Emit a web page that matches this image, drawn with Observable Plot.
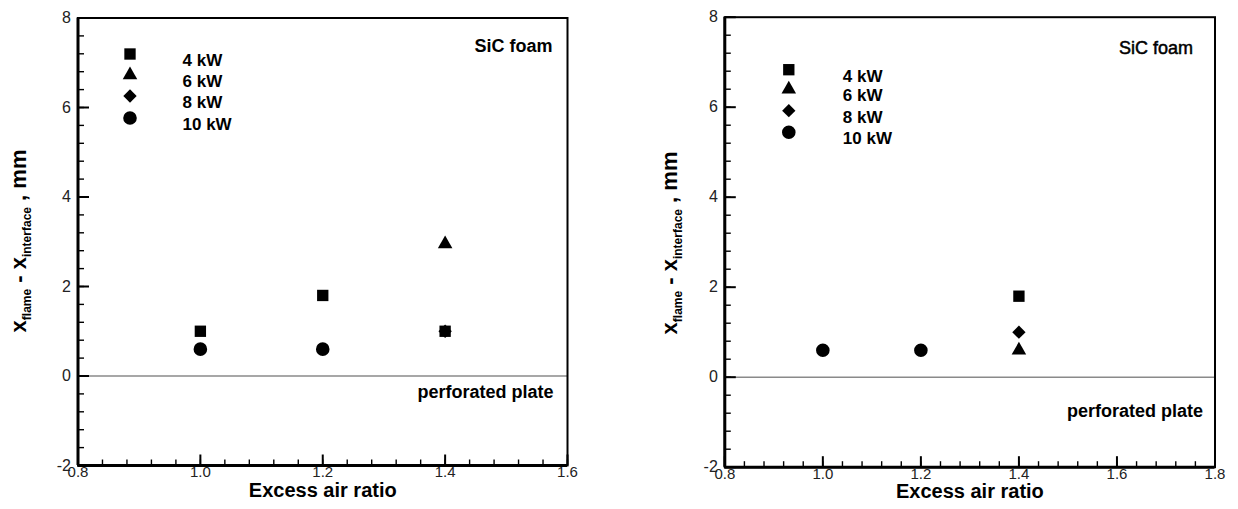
<!DOCTYPE html>
<html><head><meta charset="utf-8">
<script src="https://cdn.jsdelivr.net/npm/d3@7"></script>
<script src="https://cdn.jsdelivr.net/npm/@observablehq/plot@0.6"></script>
<style>
body{margin:0;background:#fff;}
#wrap{display:flex;width:1238px;height:509px;}
#wrap svg{display:block;}
</style></head><body><div id="wrap"></div>
<script>
// ---- data ----
const series = ["4 kW", "6 kW", "8 kW", "10 kW"];
const symbols = ["square", "triangle", "diamond2", "circle"];

// left panel
const left4kW_x = [1.0, 1.2, 1.4];   const left4kW_y = [1.0, 1.8, 1.0];
const left6kW_x = [1.4];             const left6kW_y = [2.95];
const left8kW_x = [1.4];             const left8kW_y = [1.0];
const left10kW_x = [1.0, 1.2];       const left10kW_y = [0.6, 0.6];
// right panel
const right4kW_x = [1.4];            const right4kW_y = [1.8];
const right6kW_x = [1.4];            const right6kW_y = [0.6];
const right8kW_x = [1.4];            const right8kW_y = [1.0];
const right10kW_x = [1.0, 1.2];      const right10kW_y = [0.6, 0.6];

const yTicks = [-2, 0, 2, 4, 6, 8];
const leftXTicks = [0.8, 1.0, 1.2, 1.4, 1.6];
const rightXTicks = [0.8, 1.0, 1.2, 1.4, 1.6, 1.8];
const xLabel = "Excess air ratio";
const topNote = "SiC foam";
const bottomNote = "perforated plate";

// ---- styling ----
const FONT = "'Liberation Sans', Arial, Helvetica, sans-serif";
const symR = [6.4, 5.4, 6.0, 6.8];
const W = 619, H = 509;

// tick glyphs drawn as small filled bars (pointing into the frame)
const yMajorSym = {draw(c) { c.rect(0, -1, 11, 2); }};
const yMinorSym = {draw(c) { c.rect(0, -0.7, 6, 1.4); }};
const xMajorSym = {draw(c) { c.rect(-1, -11, 2, 11); }};
const xMinorSym = {draw(c) { c.rect(-0.7, -6, 1.4, 6); }};

function rows(xs, ys, s) { return xs.map((x, i) => ({x, y: ys[i], s})); }

function panel(cfg) {
  const data = cfg.d.map((p, i) => rows(p[0], p[1], i));
  const xd = [cfg.xTicks[0], cfg.xTicks[cfg.xTicks.length - 1]];
  const xMinor = d3.range(0, Math.round((xd[1] - xd[0]) / 0.04) + 1).map(i => xd[0] + i * 0.04);
  const yMinor = d3.range(0, 26).map(i => -2 + i * 0.4);
  const marks = [
    Plot.ruleY([0], {stroke: "#8a8a8a", strokeWidth: 1.5}),
    Plot.dot(yMinor, {y: d => d, frameAnchor: "left", symbol: yMinorSym, fill: "#000", stroke: "none"}),
    Plot.dot(yTicks, {y: d => d, frameAnchor: "left", symbol: yMajorSym, fill: "#000", stroke: "none"}),
    Plot.dot(xMinor, {x: d => d, frameAnchor: "bottom", symbol: xMinorSym, fill: "#000", stroke: "none"}),
    Plot.dot(cfg.xTicks, {x: d => d, frameAnchor: "bottom", symbol: xMajorSym, fill: "#000", stroke: "none"}),
    Plot.axisY(yTicks, {tickSize: 0, tickPadding: 7, tickFormat: d => String(d), fontSize: 16, fill: "#222", label: null}),
    Plot.axisX(cfg.xTicks, {tickSize: 0, tickPadding: 1, tickFormat: d3.format(".1f"), fontSize: 15, fill: "#222", label: null}),
    Plot.frame({stroke: "#000", strokeWidth: 2}),
    Plot.ruleX([xd[0]], {stroke: "#000", strokeWidth: 3}),
    Plot.ruleY([-2], {stroke: "#000", strokeWidth: 3}),
    Plot.text([xLabel], {text: d => d, frameAnchor: "bottom", dy: 31, fontSize: 20, fontWeight: "bold", fill: "#000"}),
    Plot.text([topNote], {text: d => d, frameAnchor: "top-right", textAnchor: "end", dx: cfg.topDx, dy: cfg.topDy, fontSize: 18, fontWeight: cfg.topWeight, fill: "#000", stroke: "#000", strokeWidth: cfg.topStroke}),
    Plot.text([bottomNote], {text: d => d, frameAnchor: "bottom-right", textAnchor: "end", dx: cfg.botDx, dy: cfg.botDy, fontSize: 18, fontWeight: "bold", fill: "#000"})
  ];
  data.forEach((rs, i) => {
    marks.push(Plot.dot(rs, {x: "x", y: "y", symbol: () => symbols[i], r: symR[i], fill: "#000", stroke: "none"}));
  });
  series.forEach((s, i) => {
    marks.push(Plot.dot([s], {frameAnchor: "top-left", dx: cfg.legSymDx, dy: cfg.legDy[i], symbol: () => symbols[i], r: symR[i], fill: "#000", stroke: "none"}));
    marks.push(Plot.text([s], {text: d => d, frameAnchor: "top-left", textAnchor: "start", dx: cfg.legTxtDx, dy: cfg.legDy[i], fontSize: 17, fontWeight: "bold", fill: "#000"}));
  });
  const svg = Plot.plot({
    width: W, height: H,
    marginLeft: cfg.ml, marginRight: cfg.mr, marginTop: cfg.mt, marginBottom: cfg.mb,
    style: {fontFamily: FONT, background: "#fff", overflow: "visible"},
    x: {type: "linear", domain: xd},
    y: {type: "linear", domain: [-2, 8]},
    symbol: {type: "identity"},
    marks
  });

  const t = d3.select(svg).append("text")
    .attr("transform", `translate(${cfg.ylx},${cfg.yly}) rotate(-90)`)
    .attr("text-anchor", "middle").attr("font-family", FONT)
    .attr("font-weight", "bold").attr("fill", "#000");
  t.append("tspan").attr("font-size", 22).text("x");
  t.append("tspan").attr("font-size", 12).attr("dy", 5).text("flame");
  t.append("tspan").attr("font-size", 22).attr("dy", -5).text(" - x");
  t.append("tspan").attr("font-size", 12).attr("dy", 5).text("interface");
  t.append("tspan").attr("font-size", 22).attr("dy", -5).text(" , mm");
  return svg;
}

const wrap = document.getElementById("wrap");
wrap.appendChild(panel({
  d: [[left4kW_x, left4kW_y], [left6kW_x, left6kW_y], [left8kW_x, left8kW_y], [left10kW_x, left10kW_y]],
  xTicks: leftXTicks,
  ml: 77.5, mr: 52, mt: 17.5, mb: 44,
  topDx: -15, topDy: 21.5, topWeight: "bold", topStroke: 0,
  botDx: -14, botDy: -68,
  legSymDx: 52, legTxtDx: 104.5, legDy: [36, 57, 78, 100],
  ylx: 26, yly: 241
}));
wrap.appendChild(panel({
  d: [[right4kW_x, right4kW_y], [right6kW_x, right6kW_y], [right8kW_x, right8kW_y], [right10kW_x, right10kW_y]],
  xTicks: rightXTicks,
  ml: 105.3, mr: 23.5, mt: 16.7, mb: 42.3,
  topDx: -22, topDy: 24.5, topWeight: "normal", topStroke: 0.5,
  botDx: -12, botDy: -50,
  legSymDx: 64, legTxtDx: 118, legDy: [52.5, 72, 93.5, 115],
  ylx: 58, yly: 243
}));
</script></body></html>
